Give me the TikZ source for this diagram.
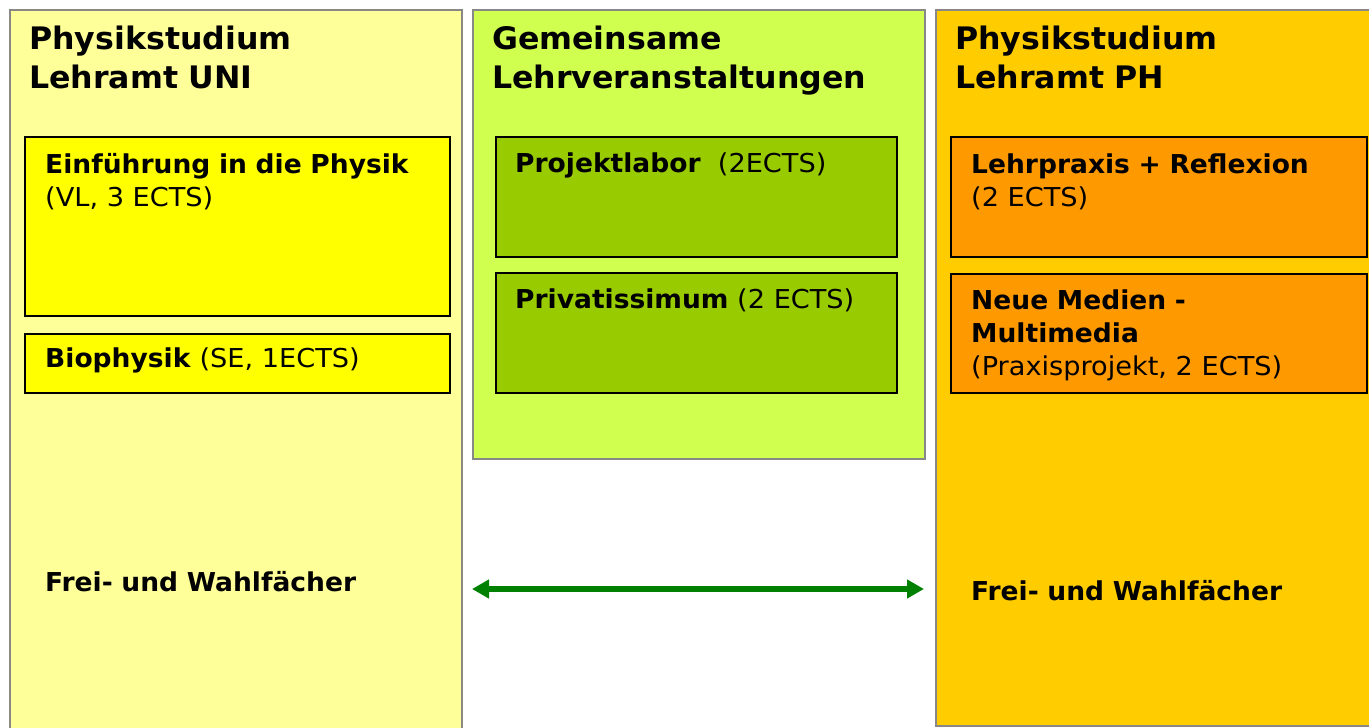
\documentclass[tikz,border=0pt]{standalone}
\usepackage{fontspec}
\setmainfont{DejaVu Sans}[FakeStretch=1.045,BoldFeatures={FakeStretch=1.02}]
\usetikzlibrary{calc}
\usetikzlibrary{positioning}
\usetikzlibrary{arrows.meta}

\definecolor{uniback}{HTML}{FFFF99}
\definecolor{unibox}{HTML}{FFFF00}
\definecolor{jointback}{HTML}{D0FF4F}
\definecolor{jointbox}{HTML}{99CC00}
\definecolor{phback}{HTML}{FFCC00}
\definecolor{phbox}{HTML}{FF9900}
\definecolor{colframe}{HTML}{888888}
\definecolor{linkgreen}{HTML}{008000}

\tikzset{
  column/.style={draw=colframe,line width=2.2pt,anchor=north west,inner sep=0pt},
  course/.style={draw=black,line width=1.6pt,anchor=north west,inner sep=0pt},
  headline/.style={anchor=base west,inner sep=0pt,text width=420pt,align=left,font=\fontsize{31}{39}\selectfont\bfseries},
  entry/.style={anchor=base west,inner sep=0pt,text width=390pt,align=left,font=\fontsize{26}{33}\selectfont}
}

\begin{document}
\begin{tikzpicture}[x=1pt,y=-1pt]
\useasboundingbox (0,0) rectangle (1369,728);

\node[column,fill=uniback,minimum width=452pt,minimum height=730pt] (uni) at (9,9) {};
\node[column,fill=jointback,minimum width=452pt,minimum height=449pt] (joint) at (472,9) {};
\node[column,fill=phback,minimum width=440pt,minimum height=716pt] (ph) at (935,9) {};

\node[headline] (unihead) at ($(uni.north west)+(20,40)$) {Physikstudium\\Lehramt UNI};
\node[headline] (jointhead) at ($(joint.north west)+(20,40)$) {Gemeinsame\\Lehrveranstaltungen};
\node[headline] (phhead) at ($(ph.north west)+(20,40)$) {Physikstudium\\Lehramt PH};

\node[course,fill=unibox,minimum width=425pt,minimum height=179pt] (einf) at (24,136) {};
\node[course,fill=unibox,minimum width=425pt,minimum height=59pt] (bio) at (24,333) {};
\node[course,fill=jointbox,minimum width=401pt,minimum height=120pt] (proj) at (495,136) {};
\node[course,fill=jointbox,minimum width=401pt,minimum height=120pt] (priv) at (495,272) {};
\node[course,fill=phbox,minimum width=416pt,minimum height=120pt] (lehr) at (950,136) {};
\node[course,fill=phbox,minimum width=416pt,minimum height=119pt] (medien) at (950,273) {};

\node[entry] (einftext) at ($(einf.north west)+(21,37)$) {\textbf{Einführung in die Physik}\\(VL, 3 ECTS)};
\node[entry] (biotext) at ($(bio.north west)+(21,34)$) {\textbf{Biophysik} (SE, 1ECTS)};
\node[entry] (projtext) at ($(proj.north west)+(20,36)$) {\textbf{Projektlabor}\ \ (2ECTS)};
\node[entry] (privtext) at ($(priv.north west)+(20,36)$) {\textbf{Privatissimum} (2 ECTS)};
\node[entry] (lehrtext) at ($(lehr.north west)+(21,37)$) {\textbf{Lehrpraxis + Reflexion}\\(2 ECTS)};
\node[entry] (medientext) at ($(medien.north west)+(21,36)$) {\textbf{Neue Medien -}\\\textbf{Multimedia}\\(Praxisprojekt, 2 ECTS)};

\node[entry,font=\fontsize{26}{33}\selectfont\bfseries] (uniwahl) at (45,591) {Frei- und Wahlfächer};
\node[entry,font=\fontsize{26}{33}\selectfont\bfseries] (phwahl) at (971,600) {Frei- und Wahlfächer};

\coordinate (linkl) at (472,589);
\coordinate (linkr) at (924,589);
\draw[linkgreen,line width=6pt,{Triangle[length=17pt,width=18pt]}-{Triangle[length=17pt,width=18pt]}] (linkl) -- (linkr);

\end{tikzpicture}
\end{document}
